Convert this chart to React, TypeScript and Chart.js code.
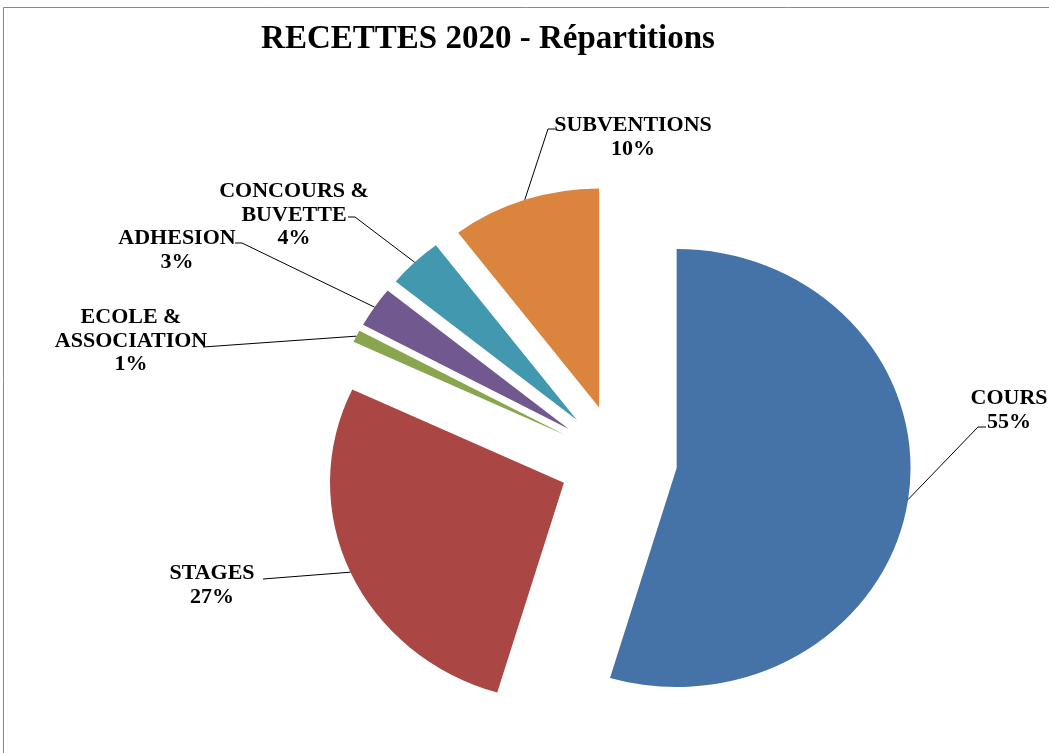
import React, { useEffect, useRef } from "react";
import { Chart, registerables } from "chart.js";

Chart.register(...registerables);

// ---- data ----
const categories = ["COURS", "STAGES", "ECOLE & ASSOCIATION", "ADHESION", "CONCOURS & BUVETTE", "SUBVENTIONS"];
const labelLines = [["COURS"], ["STAGES"], ["ECOLE &", "ASSOCIATION"], ["ADHESION"], ["CONCOURS &", "BUVETTE"], ["SUBVENTIONS"]];
const shares = [54.6, 27.4, 0.9, 3.0, 3.8, 10.3];
const colors = ["#4572A7", "#AA4643", "#89A54E", "#71588F", "#4198AF", "#DB843D"];
const chartTitle = "RECETTES 2020 - Répartitions";

// ---- layout ----
const W = 1049;
const H = 753;
const RADIUS = 219;
const EXPLODE = 55.5;
const X_STRETCH = 1.068;
const LABEL_FONT = 'bold 22px "Liberation Serif", "Times New Roman", serif';
const LINE_H = 23.5;
const labelLayout: { x: number; y: number; path: number[][] }[] = [
  { x: 1009, y: 404, path: [[978, 427], [986, 427]] },
  { x: 212, y: 579, path: [[263, 579]] },
  { x: 131, y: 323, path: [[203, 347]] },
  { x: 177, y: 244, path: [[242, 243], [235, 243]] },
  { x: 294, y: 197, path: [[355, 217], [348, 217]] },
  { x: 633, y: 131, path: [[548, 129], [555, 129]] },
];

const explodedPiePlugin = {
  id: "explodedPie",
  afterDatasetsUpdate(chart: any) {
    const meta = chart.getDatasetMeta(0);
    meta.data.forEach((el: any) => {
      const mid = (el.startAngle + el.endAngle) / 2;
      el.x += Math.cos(mid) * EXPLODE;
      el.y += Math.sin(mid) * EXPLODE;
    });
  },
  beforeDraw(chart: any) {
    const ctx = chart.ctx;
    ctx.save();
    ctx.fillStyle = "#ffffff";
    ctx.fillRect(0, 0, chart.width, chart.height);
    ctx.strokeStyle = "#8a8a8a";
    ctx.lineWidth = 1;
    ctx.beginPath();
    ctx.moveTo(3.5, chart.height);
    ctx.lineTo(3.5, 7.5);
    ctx.lineTo(chart.width, 7.5);
    ctx.stroke();
    ctx.restore();
  },
  beforeDatasetsDraw(chart: any) {
    const ctx = chart.ctx;
    const ca = chart.chartArea;
    const cx = (ca.left + ca.right) / 2;
    ctx.save();
    ctx.translate(cx, 0);
    ctx.scale(X_STRETCH, 1);
    ctx.translate(-cx, 0);
  },
  afterDatasetsDraw(chart: any) {
    chart.ctx.restore();
  },
  afterDraw(chart: any) {
    const ctx = chart.ctx;
    const ca = chart.chartArea;
    const cx = (ca.left + ca.right) / 2;
    const meta = chart.getDatasetMeta(0);
    const total = shares.reduce((a, b) => a + b, 0);
    ctx.save();
    // title
    ctx.fillStyle = "#000";
    ctx.textAlign = "center";
    ctx.textBaseline = "alphabetic";
    ctx.font = 'bold 33px "Liberation Serif", "Times New Roman", serif';
    ctx.fillText(chartTitle, 488, 48);
    // labels + leader lines
    ctx.font = LABEL_FONT;
    ctx.strokeStyle = "#000";
    ctx.lineWidth = 1;
    meta.data.forEach((el: any, i: number) => {
      const mid = (el.startAngle + el.endAngle) / 2;
      const ux = el.x + Math.cos(mid) * el.outerRadius;
      const uy = el.y + Math.sin(mid) * el.outerRadius;
      const ax = cx + X_STRETCH * (ux - cx);
      const ay = uy;
      const lay = labelLayout[i];
      ctx.beginPath();
      ctx.moveTo(ax, ay);
      lay.path.forEach((p) => ctx.lineTo(p[0], p[1]));
      ctx.stroke();
      const pct = Math.round((shares[i] / total) * 100) + "%";
      const lines = [...labelLines[i], pct];
      lines.forEach((t, k) => ctx.fillText(t, lay.x, lay.y + k * LINE_H));
    });
    ctx.restore();
  },
};

export default function App() {
  const ref = useRef<HTMLCanvasElement>(null);
  useEffect(() => {
    const chart = new Chart(ref.current as HTMLCanvasElement, {
      type: "pie",
      data: {
        labels: categories,
        datasets: [
          {
            data: shares,
            backgroundColor: colors,
            borderWidth: 0,
            radius: RADIUS,
          } as any,
        ],
      },
      options: {
        responsive: false,
        animation: false,
        devicePixelRatio: 1,
        events: [],
        radius: RADIUS,
        layout: { padding: { left: 194, right: 7, top: 174, bottom: 7 } },
        plugins: {
          legend: { display: false },
          tooltip: { enabled: false },
          title: { display: false },
        },
      } as any,
      plugins: [explodedPiePlugin],
    });
    return () => chart.destroy();
  }, []);
  return (
    <div style={{ position: "absolute", left: 0, top: 0, width: W, height: H, background: "#fff" }}>
      <canvas ref={ref} width={W} height={H} style={{ display: "block", width: W, height: H }} />
    </div>
  );
}
